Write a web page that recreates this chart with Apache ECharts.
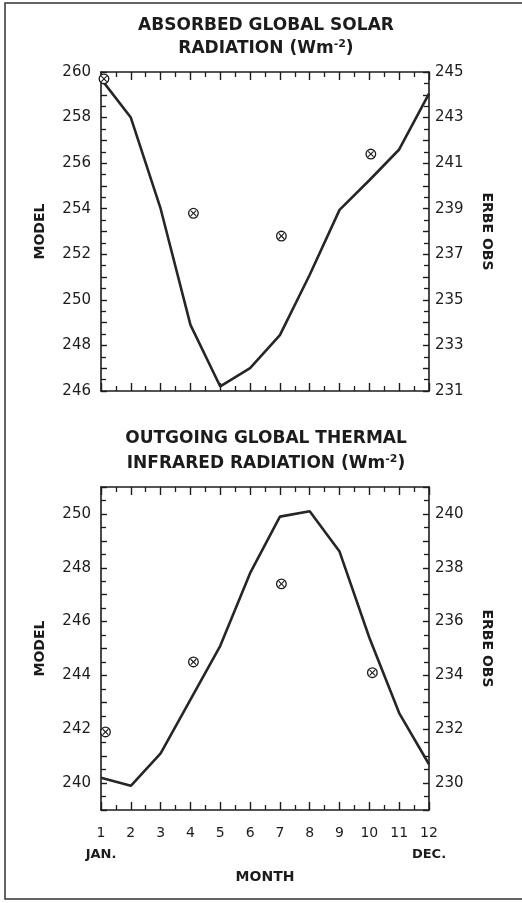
<!DOCTYPE html>
<html>
<head>
<meta charset="utf-8">
<script src="https://cdn.jsdelivr.net/npm/echarts@6/dist/echarts.min.js"></script>
<style>
  html, body { margin: 0; padding: 0; background: #fff; }
  #chart { width: 522px; height: 903px; }
</style>
</head>
<body>
<div id="chart"></div>
<script>
// ---- data ----
const months = [1, 2, 3, 4, 5, 6, 7, 8, 9, 10, 11, 12];
const modelSolar = [259.7, 258.0, 254.0, 248.9, 246.2, 247.0, 248.45, 251.1, 253.95, 255.25, 256.6, 259.05];
const obsSolarMonths = [1.1, 4.1, 7.05, 10.05];
const obsSolar = [244.7, 238.8, 237.8, 241.4];
const modelOLR = [240.2, 239.9, 241.1, 243.1, 245.1, 247.8, 249.9, 250.1, 248.6, 245.4, 242.6, 240.7];
const obsOLRMonths = [1.15, 4.1, 7.05, 10.1];
const obsOLR = [231.9, 234.5, 237.4, 234.1];

const INK = '#1c1c1c';
const FONT = 'DejaVu Sans';

const chart = echarts.init(document.getElementById('chart'), null, { renderer: 'canvas' });

function pairs(xs, ys) { return xs.map((x, i) => [x, ys[i]]); }

function renderObs(params, api) {
  const p = api.coord([api.value(0), api.value(1)]);
  const r = 4.8, d = 2.7;
  return {
    type: 'group',
    children: [
      { type: 'circle', shape: { cx: p[0], cy: p[1], r: r }, style: { fill: '#fff', stroke: INK, lineWidth: 1.3 } },
      { type: 'line', shape: { x1: p[0] - d, y1: p[1] - d, x2: p[0] + d, y2: p[1] + d }, style: { stroke: INK, lineWidth: 1.1 } },
      { type: 'line', shape: { x1: p[0] + d, y1: p[1] - d, x2: p[0] - d, y2: p[1] + d }, style: { stroke: INK, lineWidth: 1.1 } }
    ]
  };
}

const axisLine = { show: true, onZero: false, lineStyle: { color: INK, width: 1.6 } };

function xAx(gridIndex, position, showLabels) {
  return {
    type: 'value', gridIndex: gridIndex, position: position,
    min: 1, max: 12, interval: 1,
    axisLine: axisLine,
    axisTick: { show: true, inside: true, length: 8, lineStyle: { color: INK, width: 1.4 } },
    minorTick: { show: true, splitNumber: 2, length: 5, lineStyle: { color: INK, width: 1.3 } },
    splitLine: { show: false }, minorSplitLine: { show: false },
    axisLabel: showLabels ? {
      show: true, margin: 12, color: INK, fontFamily: FONT, fontSize: 14,
      formatter: function (v) {
        if (v === 1) return '1\n{m|JAN.}';
        if (v === 12) return '12\n{m|DEC.}';
        return String(v);
      },
      lineHeight: 22,
      rich: { m: { fontFamily: FONT, fontSize: 13, fontWeight: 'bold', color: INK, lineHeight: 22 } }
    } : { show: false },
    name: showLabels ? 'MONTH' : '',
    nameLocation: 'middle', nameGap: 60,
    nameTextStyle: { fontFamily: FONT, fontSize: 14, fontWeight: 'bold', color: INK }
  };
}

function yAx(gridIndex, position, min, max, parity, name) {
  const left = position === 'left';
  return {
    type: 'value', gridIndex: gridIndex, position: position,
    min: min, max: max, interval: 1,
    axisLine: axisLine,
    axisTick: { show: true, inside: true, length: 6, lineStyle: { color: INK, width: 1.4 } },
    minorTick: { show: true, splitNumber: 2, length: 5, lineStyle: { color: INK, width: 1.3 } },
    splitLine: { show: false }, minorSplitLine: { show: false },
    axisLabel: {
      show: true, margin: left ? 10 : 6, color: INK, fontFamily: FONT, fontSize: 15,
      formatter: function (v) { return (Math.round(v) % 2 === parity) ? String(v) : ''; }
    },
    name: name, nameLocation: 'middle', nameGap: left ? 54 : 51,
    nameRotate: left ? 90 : -90,
    nameTextStyle: { fontFamily: FONT, fontSize: 14, fontWeight: 'bold', color: INK }
  };
}

const titleStyle = {
  fontFamily: FONT, fontSize: 17, fontWeight: 'bold', color: INK, lineHeight: 20,
  rich: { sup: { fontFamily: FONT, fontSize: 11, fontWeight: 'bold', color: INK, verticalAlign: 'top', lineHeight: 14 } }
};

const option = {
  backgroundColor: '#fff',
  animation: false,
  title: [
    { text: 'ABSORBED GLOBAL SOLAR', left: 261, top: 11, textAlign: 'center', textStyle: titleStyle },
    { text: 'RADIATION (Wm{sup|-2})', left: 261, top: 34, textAlign: 'center', textStyle: titleStyle },
    { text: 'OUTGOING GLOBAL THERMAL', left: 261, top: 424, textAlign: 'center', textStyle: titleStyle },
    { text: 'INFRARED RADIATION (Wm{sup|-2})', left: 261, top: 449, textAlign: 'center', textStyle: titleStyle }
  ],
  graphic: [
    { type: 'rect', shape: { x: 5, y: 3, width: 540, height: 896 }, style: { fill: 'none', stroke: '#333', lineWidth: 1.5 }, silent: true }
  ],
  grid: [
    { left: 101, top: 72, width: 328, height: 319 },
    { left: 101, top: 487, width: 328, height: 323 }
  ],
  xAxis: [
    xAx(0, 'bottom', false),
    xAx(0, 'top', false),
    xAx(1, 'bottom', true),
    xAx(1, 'top', false)
  ],
  yAxis: [
    yAx(0, 'left', 246, 260, 0, 'MODEL'),
    yAx(0, 'right', 231, 245, 1, 'ERBE OBS'),
    yAx(1, 'left', 239, 251, 0, 'MODEL'),
    yAx(1, 'right', 229, 241, 0, 'ERBE OBS')
  ],
  series: [
    {
      type: 'line', xAxisIndex: 0, yAxisIndex: 0,
      data: pairs(months, modelSolar), showSymbol: false, symbol: 'none',
      lineStyle: { color: '#262626', width: 2.6 }, clip: false
    },
    {
      type: 'custom', xAxisIndex: 0, yAxisIndex: 1, coordinateSystem: 'cartesian2d',
      data: pairs(obsSolarMonths, obsSolar), renderItem: renderObs, clip: false, z: 5
    },
    {
      type: 'line', xAxisIndex: 2, yAxisIndex: 2,
      data: pairs(months, modelOLR), showSymbol: false, symbol: 'none',
      lineStyle: { color: '#262626', width: 2.6 }, clip: false
    },
    {
      type: 'custom', xAxisIndex: 2, yAxisIndex: 3, coordinateSystem: 'cartesian2d',
      data: pairs(obsOLRMonths, obsOLR), renderItem: renderObs, clip: false, z: 5
    }
  ]
};

chart.setOption(option);
</script>
</body>
</html>
